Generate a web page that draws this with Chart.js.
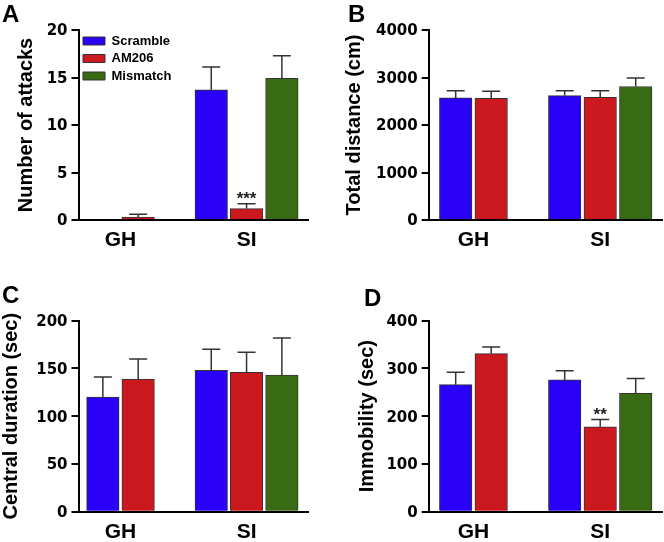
<!DOCTYPE html>
<html>
<head>
<meta charset="utf-8">
<script src="https://cdn.jsdelivr.net/npm/chart.js@4.4.1/dist/chart.umd.min.js"></script>
<style>
  html, body { margin: 0; padding: 0; background: #fff; }
  #page { position: relative; width: 664px; height: 542px; overflow: hidden; }
  .panel { position: absolute; width: 332px; height: 271px; }
  .letter { position: absolute; font: bold 24px 'Liberation Sans', Arial, sans-serif; line-height: 24px; color: #000; }
</style>
</head>
<body>
<div id="page">
  <div class="panel" style="left:0;top:0"><canvas id="chartA" width="332" height="271"></canvas></div>
  <div class="panel" style="left:332px;top:0"><canvas id="chartB" width="332" height="271"></canvas></div>
  <div class="panel" style="left:0;top:271px"><canvas id="chartC" width="332" height="271"></canvas></div>
  <div class="panel" style="left:332px;top:271px"><canvas id="chartD" width="332" height="271"></canvas></div>
  <div class="letter" style="left:2px;top:2px">A</div>
  <div class="letter" style="left:348px;top:2px">B</div>
  <div class="letter" style="left:2px;top:283px">C</div>
  <div class="letter" style="left:364px;top:286px">D</div>
</div>
<script>
const groups = ['GH', 'SI'];
const seriesNames = ['Scramble', 'AM206', 'Mismatch'];
const seriesColors = ['#2a00f8', '#cc1920', '#386b14'];

// A: number of attacks (mean, SEM) per series, [GH, SI]
const attacksMean = [[0, 13.7], [0.3, 1.2], [null, 14.9]];
const attacksSem = [[0, 2.4], [0.3, 0.5], [null, 2.4]];
const attacksStars = [['', ''], ['', '***'], ['', '']];
const attacksTicks = [0, 5, 10, 15, 20];

// B: total distance (cm)
const distanceMean = [[2570, 2620], [2560, 2580], [null, 2810]];
const distanceSem = [[150, 100], [150, 140], [null, 180]];
const distanceStars = [['', ''], ['', ''], ['', '']];
const distanceTicks = [0, 1000, 2000, 3000, 4000];

// C: central duration (sec)
const centralMean = [[120, 148], [139, 146], [null, 143]];
const centralSem = [[21, 22], [21, 21], [null, 39]];
const centralStars = [['', ''], ['', ''], ['', '']];
const centralTicks = [0, 50, 100, 150, 200];

// D: immobility (sec)
const immobilityMean = [[266, 276], [331, 178], [null, 248]];
const immobilitySem = [[26, 19], [14, 15], [null, 31]];
const immobilityStars = [['', ''], ['', '**'], ['', '']];
const immobilityTicks = [0, 100, 200, 300, 400];

// layout: where each group's first bar sits on the x axis (in bar slots)
const GROUP_START = [0, 3.07];
const X_MAX = 5.81;
const FONT = "'Liberation Sans', Arial, sans-serif";

const errorBars = {
  id: 'errorBars',
  afterDatasetsDraw(chart, args, opts) {
    const { ctx } = chart;
    const y = chart.scales.y;
    ctx.save();
    chart.data.datasets.forEach((ds, di) => {
      const meta = chart.getDatasetMeta(di);
      meta.data.forEach((bar, i) => {
        const pt = ds.data[i];
        const sem = opts.sem[di][pt.g];
        const top = y.getPixelForValue(pt.y + sem);
        if (sem > 0) {
          ctx.strokeStyle = '#333';
          ctx.lineWidth = 1.5;
          ctx.beginPath();
          ctx.moveTo(bar.x, y.getPixelForValue(pt.y));
          ctx.lineTo(bar.x, top);
          ctx.moveTo(bar.x - 9, top);
          ctx.lineTo(bar.x + 9, top);
          ctx.stroke();
        }
        const star = opts.stars[di][pt.g];
        if (star) {
          ctx.fillStyle = '#222';
          ctx.font = 'bold 17px ' + FONT;
          ctx.textAlign = 'center';
          ctx.textBaseline = 'alphabetic';
          ctx.fillText(star, bar.x, top);
        }
      });
    });
    ctx.restore();
  }
};

// a 'chartArea' legend gets top = 0, so pin it to the plot top
const legendInPlot = {
  id: 'legendInPlot',
  afterLayout(chart) {
    const lg = chart.legend;
    if (lg && lg.options.display) {
      lg.top = chart.chartArea.top;
      lg.bottom = chart.chartArea.bottom;
    }
  }
};

function makePanel(id, p) {
  const counts = groups.map((g, gi) => p.mean.filter(s => s[gi] !== null).length);
  const centers = groups.map((g, gi) => GROUP_START[gi] + (counts[gi] - 1) / 2);

  const datasets = seriesNames.map((name, si) => ({
    label: name,
    data: groups
      .map((g, gi) => ({ x: GROUP_START[gi] + si, y: p.mean[si][gi], g: gi }))
      .filter(d => d.y !== null),
    backgroundColor: seriesColors[si],
    borderColor: '#333',
    borderWidth: 1,
    grouped: false,
    barThickness: 32.5
  }));

  return new Chart(document.getElementById(id), {
    type: 'bar',
    data: { datasets },
    plugins: [errorBars, legendInPlot],
    options: {
      responsive: false,
      animation: false,
      events: [],
      layout: { padding: { top: p.top, right: p.right, left: 0, bottom: 0 } },
      plugins: {
        tooltip: { enabled: false },
        legend: {
          display: !!p.legend,
          position: 'chartArea',
          align: 'start',
          labels: {
            boxWidth: 22,
            boxHeight: 8,
            padding: 4.5,
            color: '#000',
            font: { family: FONT, weight: 'bold', size: 13 }
          }
        },
        errorBars: { sem: p.sem, stars: p.stars }
      },
      scales: {
        x: {
          type: 'linear',
          min: p.xMin,
          max: X_MAX,
          offset: false,
          grid: { display: false, drawTicks: false },
          border: { display: true, color: '#000', width: 2 },
          afterBuildTicks: axis => { axis.ticks = centers.map(v => ({ value: v })); },
          ticks: {
            autoSkip: false,
            maxRotation: 0,
            padding: 8,
            color: '#000',
            font: { family: FONT, weight: 'bold', size: 21 },
            callback: (v, i) => groups[i]
          },
          afterFit: axis => { axis.height = p.xHeight; }
        },
        y: {
          min: p.ticks[0],
          max: p.ticks[p.ticks.length - 1],
          afterBuildTicks: axis => { axis.ticks = p.ticks.map(v => ({ value: v })); },
          grid: { display: true, drawOnChartArea: false, drawTicks: true, tickLength: 7, color: '#000', lineWidth: 2 },
          border: { display: true, color: '#000', width: 2 },
          ticks: {
            padding: 4,
            labelOffset: 1.5,
            color: '#000',
            font: { family: "'DejaVu Sans', sans-serif", weight: 'bold', size: 15 },
            callback: v => String(v)
          },
          title: {
            display: true,
            text: p.title,
            color: '#000',
            font: { family: FONT, weight: 'bold', size: 20 },
            padding: { top: p.titlePad, bottom: 0 }
          },
          afterFit: axis => { axis.width = p.yWidth; }
        }
      }
    }
  });
}

makePanel('chartA', {
  mean: attacksMean, sem: attacksSem, stars: attacksStars, ticks: attacksTicks,
  title: 'Number of attacks', legend: true,
  top: 30, right: 24, yWidth: 78.5, xHeight: 51, xMin: -0.69, titlePad: 14
});
makePanel('chartB', {
  mean: distanceMean, sem: distanceSem, stars: distanceStars, ticks: distanceTicks,
  title: 'Total distance (cm)',
  top: 30, right: 2, yWidth: 96.7, xHeight: 51, xMin: -0.76, titlePad: 10
});
makePanel('chartC', {
  mean: centralMean, sem: centralSem, stars: centralStars, ticks: centralTicks,
  title: 'Central duration (sec)',
  top: 49.7, right: 24, yWidth: 78.5, xHeight: 30.3, xMin: -0.69, titlePad: -1
});
makePanel('chartD', {
  mean: immobilityMean, sem: immobilitySem, stars: immobilityStars, ticks: immobilityTicks,
  title: 'Immobility (sec)',
  top: 49.7, right: 2, yWidth: 96.7, xHeight: 30.3, xMin: -0.76, titlePad: 23
});
</script>
</body>
</html>
